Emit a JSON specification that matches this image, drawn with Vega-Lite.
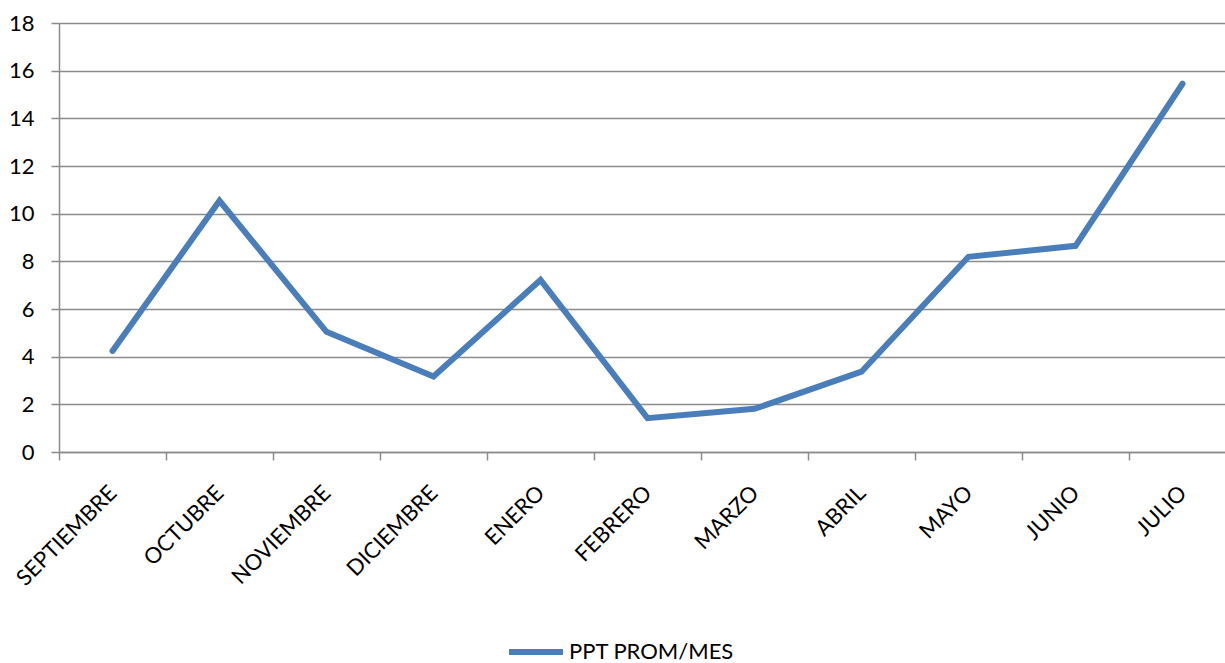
{
  "$schema": "https://vega.github.io/schema/vega-lite/v6.json",
  "autosize": {"type": "none"},
  "width": 1166,
  "height": 429,
  "padding": {"left": 59, "top": 23, "right": 0, "bottom": 211},
  "background": "white",
  "config": {
    "view": {"stroke": null},
    "font": "Lato"
  },
  "data": {
    "values": [
      {"mes": "SEPTIEMBRE", "ppt": 4.24, "serie": "PPT PROM/MES"},
      {"mes": "OCTUBRE", "ppt": 10.54, "serie": "PPT PROM/MES"},
      {"mes": "NOVIEMBRE", "ppt": 5.04, "serie": "PPT PROM/MES"},
      {"mes": "DICIEMBRE", "ppt": 3.17, "serie": "PPT PROM/MES"},
      {"mes": "ENERO", "ppt": 7.22, "serie": "PPT PROM/MES"},
      {"mes": "FEBRERO", "ppt": 1.42, "serie": "PPT PROM/MES"},
      {"mes": "MARZO", "ppt": 1.81, "serie": "PPT PROM/MES"},
      {"mes": "ABRIL", "ppt": 3.37, "serie": "PPT PROM/MES"},
      {"mes": "MAYO", "ppt": 8.19, "serie": "PPT PROM/MES"},
      {"mes": "JUNIO", "ppt": 8.65, "serie": "PPT PROM/MES"},
      {"mes": "JULIO", "ppt": 15.45, "serie": "PPT PROM/MES"}
    ]
  },
  "mark": {"type": "line", "strokeWidth": 6, "strokeCap": "round", "strokeJoin": "miter"},
  "encoding": {
    "x": {
      "field": "mes",
      "type": "nominal",
      "sort": null,
      "bandPosition": 0.5,
      "scale": {"type": "band", "paddingInner": 0, "paddingOuter": 0, "range": [0, 1177]},
      "axis": {
        "title": null,
        "grid": false,
        "tickBand": "extent",
        "domainColor": "#8c8c8c",
        "domainWidth": 1.5,
        "tickColor": "#8c8c8c",
        "tickWidth": 1.5,
        "tickSize": 8,
        "labelAngle": -45,
        "labelAlign": "right",
        "labelBaseline": "middle",
        "labelPadding": 29,
        "labelFont": "Lato",
        "labelFontSize": 22,
        "labelColor": "#000000"
      }
    },
    "y": {
      "field": "ppt",
      "type": "quantitative",
      "scale": {"domain": [0, 18], "nice": false, "zero": true},
      "axis": {
        "title": null,
        "values": [0, 2, 4, 6, 8, 10, 12, 14, 16, 18],
        "grid": true,
        "gridColor": "#8c8c8c",
        "gridWidth": 1.5,
        "domainColor": "#8c8c8c",
        "domainWidth": 1.5,
        "tickColor": "#8c8c8c",
        "tickWidth": 1.5,
        "tickSize": 8,
        "labelPadding": 17,
        "labelFont": "Lato",
        "labelFontSize": 22,
        "labelColor": "#000000"
      }
    },
    "color": {
      "field": "serie",
      "type": "nominal",
      "scale": {"domain": ["PPT PROM/MES"], "range": ["#4a7ebb"]},
      "legend": {
        "title": null,
        "orient": "none",
        "legendX": 447,
        "legendY": 599,
        "symbolType": "stroke",
        "symbolSize": 2916,
        "symbolStrokeWidth": 6,
        "symbolStrokeColor": "#4a7ebb",
        "labelFont": "Lato",
        "labelFontSize": 22,
        "labelColor": "#000000",
        "labelOffset": 3,
        "labelLimit": 0
      }
    }
  }
}
